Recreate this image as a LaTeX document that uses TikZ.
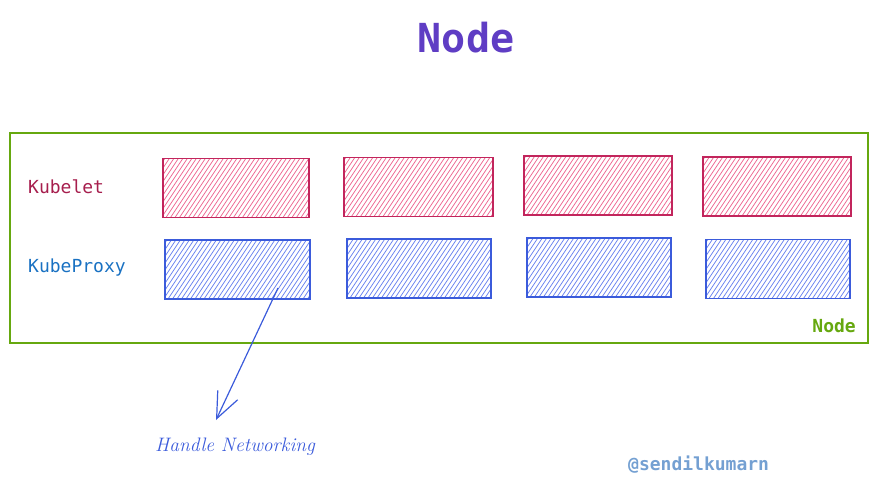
\documentclass[tikz,border=0pt]{standalone}
\usepackage{fontspec}
\setmonofont{DejaVu Sans Mono}
\usetikzlibrary{arrows.meta}
\definecolor{titlec}{HTML}{5F3DC4}
\definecolor{grn}{HTML}{66A80F}
\definecolor{kubec}{HTML}{A61E4D}
\definecolor{redst}{HTML}{C2255C}
\definecolor{redh}{HTML}{EE6A93}
\definecolor{proxc}{HTML}{1971C2}
\definecolor{bluest}{HTML}{3B5BDB}
\definecolor{blueh}{HTML}{6C85F0}
\definecolor{signc}{HTML}{74A0D2}
\tikzset{
  hatch/.style={path picture={
    \foreach \i in {-60,-55.5,...,160}
      \draw[#1,line width=0.75pt] ([xshift=\i pt]path picture bounding box.south west) -- ++(50pt,75pt);}},
  redbox/.style={draw=redst,line width=1.4pt,hatch=redh,minimum width=146pt,minimum height=59pt,inner sep=0pt},
  bluebox/.style={draw=bluest,line width=1.4pt,hatch=blueh,minimum width=144pt,minimum height=59pt,inner sep=0pt},
  lbl/.style={font=\ttfamily\fontsize{18}{21}\selectfont,anchor=west,inner sep=0pt},
}
\begin{document}
\begin{tikzpicture}[x=1pt,y=-1pt]
\useasboundingbox (0,0) rectangle (880,488);
\node[font=\ttfamily\bfseries\fontsize{40}{46}\selectfont,text=titlec] (title) at (466,38) {Node};
\node[draw=grn,line width=1.4pt,minimum width=858pt,minimum height=210pt,inner sep=0pt] (outer) at (439,238) {};
\node[lbl,text=kubec] (kubelet) at (28,187) {Kubelet};
\node[lbl,text=proxc] (kubeproxy) at (28,268) {KubeProxy};
\node[redbox] (kl1) at (236,188) {};
\node[redbox,minimum width=149pt] (kl2) at (418.5,187) {};
\node[redbox,minimum width=148pt] (kl3) at (598,185.5) {};
\node[redbox,minimum width=148pt] (kl4) at (777,186.5) {};
\node[bluebox,minimum width=145pt] (kp1) at (237.5,269.5) {};
\node[bluebox] (kp2) at (419,268.5) {};
\node[bluebox] (kp3) at (599,267.5) {};
\node[bluebox] (kp4) at (778,269) {};
\node[font=\ttfamily\bfseries\fontsize{18}{21}\selectfont,text=grn,anchor=east,inner sep=0pt] (nodelbl) at (856,326) {Node};
\coordinate (tip) at (216,420);
\draw[bluest,line width=1.2pt,-{Straight Barb[length=26pt,width=22pt,line width=1.2pt]}] ([xshift=40.5pt,yshift=-18.5pt]kp1.center) -- (tip);
\node[font=\itshape\fontsize{19.5}{23}\selectfont,text=bluest] (hn) at (235,447) {Handle Networking};
\node[font=\ttfamily\bfseries\fontsize{18}{21}\selectfont,text=signc,anchor=west,inner sep=0pt] (sign) at (628,465) {@sendilkumarn};
\end{tikzpicture}
\end{document}
